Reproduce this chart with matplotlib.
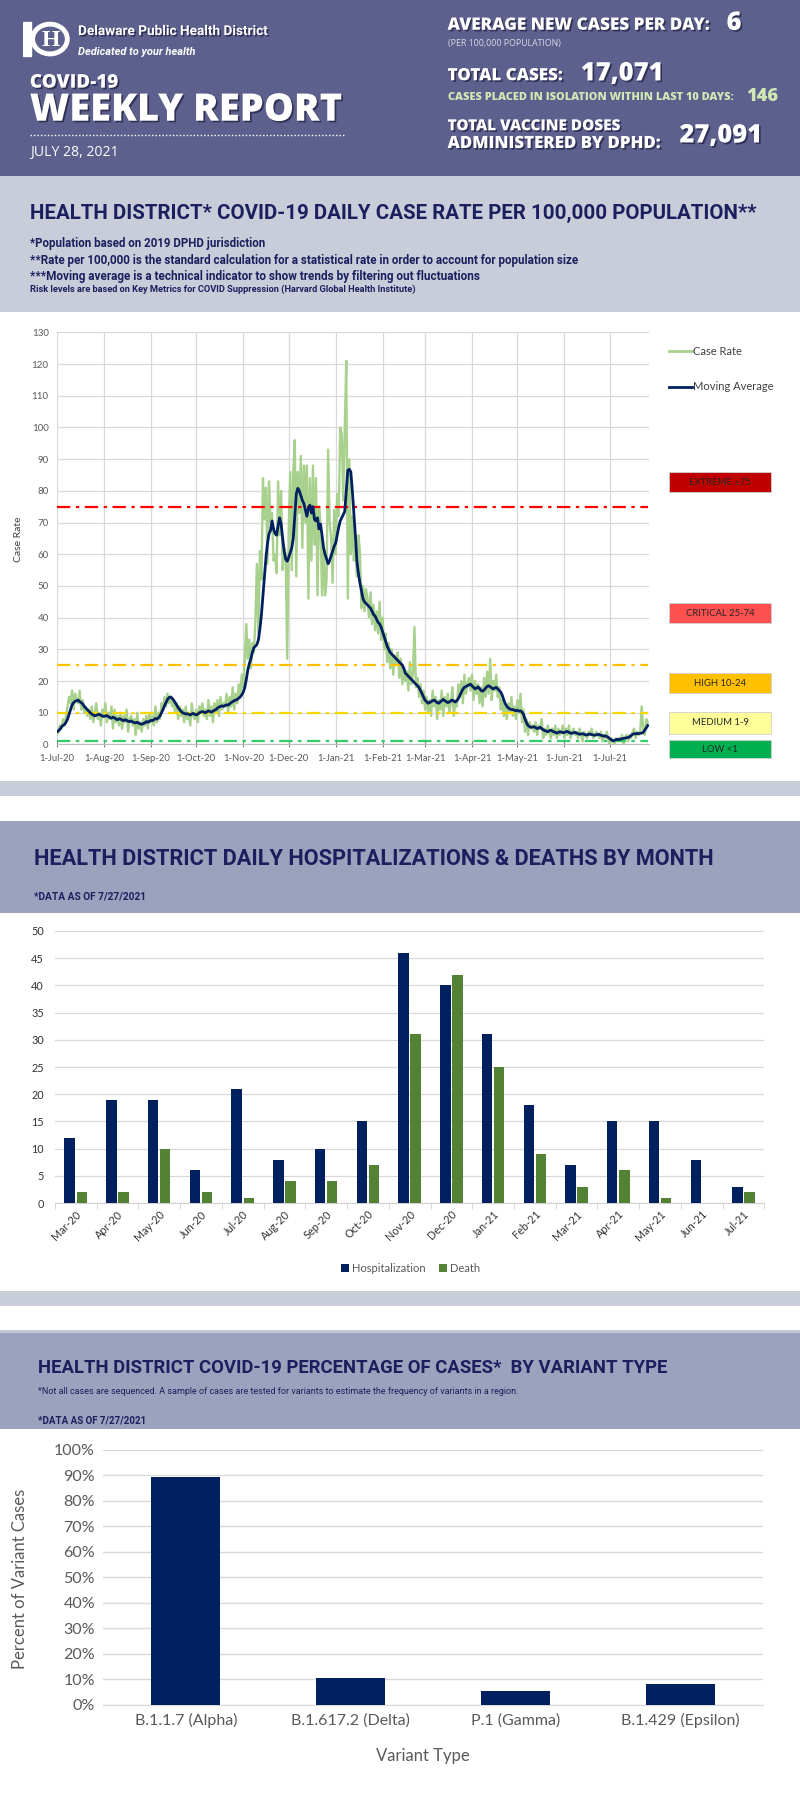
import numpy as np
import pandas as pd
import matplotlib
matplotlib.use('Agg')
import matplotlib.pyplot as plt
import matplotlib.patheffects as pe
from matplotlib.patches import Rectangle, Circle
from matplotlib.lines import Line2D

# header numbers
avg_new_cases = "6"
total_cases = "17,071"
isolation_10d = "146"
vaccine_doses = "27,091"
report_date = "JULY 28, 2021"

# daily case rate per 100,000 from 1-Jul-20 (one row per week)
case_rate = [
    3, 4, 6, 5, 8, 6, 9,
    12, 15, 13, 17, 11, 16, 14,
    13, 17, 11, 14, 10, 12, 9,
    11, 8, 12, 7, 10, 13, 8,
    10, 6, 11, 9, 13, 7, 10,
    8, 12, 5, 11, 7, 9, 6,
    10, 5, 9, 7, 11, 4, 8,
    9, 6, 8, 3, 10, 5, 7,
    4, 8, 6, 9, 5, 10, 7,
    9, 6, 12, 7, 10, 8, 13,
    11, 15, 12, 16, 13, 15, 12,
    14, 10, 13, 8, 12, 9, 11,
    7, 12, 8, 10, 6, 13, 9,
    8, 11, 7, 12, 10, 13, 9,
    11, 8, 14, 9, 12, 7, 13,
    10, 14, 9, 15, 11, 13, 12,
    16, 10, 15, 12, 18, 11, 16,
    13, 19, 15, 22, 18, 27, 38,
    27, 33, 24, 32, 29, 39, 57,
    35, 61, 52, 84, 71, 81, 57,
    83, 70, 73, 58, 60, 54, 83,
    66, 80, 55, 62, 60, 27, 68,
    86, 55, 86, 96, 53, 86, 73,
    91, 62, 88, 70, 88, 46, 84,
    58, 88, 63, 84, 47, 75, 70,
    47, 62, 47, 52, 93, 70, 65,
    51, 74, 60, 79, 72, 100, 98,
    77, 100, 121, 46, 90, 60, 72,
    58, 63, 53, 66, 61, 43, 50,
    42, 49, 46, 40, 48, 38, 44,
    36, 42, 35, 45, 33, 40, 30,
    35, 26, 32, 24, 30, 22, 28,
    25, 29, 21, 27, 19, 24, 20,
    23, 17, 26, 19, 22, 37, 18,
    21, 15, 19, 13, 17, 11, 15,
    10, 14, 9, 17, 12, 15, 8,
    14, 11, 17, 9, 15, 12, 16,
    10, 13, 18, 9, 14, 12, 19,
    15, 20, 13, 22, 16, 19, 21,
    17, 22, 14, 20, 16, 19, 13,
    18, 12, 21, 15, 23, 16, 27,
    14, 20, 17, 22, 15, 18, 11,
    14, 9, 12, 8, 13, 10, 15,
    9, 12, 8, 14, 10, 16, 7,
    11, 4, 8, 3, 7, 5, 6,
    4, 7, 3, 6, 5, 8, 2,
    5, 3, 6, 4, 2, 5, 3,
    6, 2, 5, 3, 4, 6, 2,
    5, 3, 6, 2, 4, 5, 3,
    4, 2, 5, 3, 1, 4, 3,
    2, 4, 3, 5, 2, 3, 4,
    3, 2, 4, 1, 3, 2, 4,
    1, 0, 2, 1, 0, 2, 1,
    2, 1, 3, 0, 2, 3, 1,
    3, 2, 4, 5, 2, 4, 3,
    4, 12, 5, 3, 8, 7,
]

moving_avg = [
    4.0, 4.3, 4.8, 5.5, 6.0, 6.3, 7.0,
    8.0, 9.5, 11.0, 12.5, 13.2, 13.6, 13.8,
    14.0, 13.5, 13.2, 12.8, 12.0, 11.5, 11.0,
    10.5, 10.0, 9.6, 9.3, 9.0, 9.2, 9.4,
    9.5, 9.2, 9.0, 8.8, 9.0, 9.1, 8.8,
    8.5, 8.3, 8.6, 8.4, 8.0, 7.8, 8.1,
    8.0, 7.7, 7.5, 7.8, 7.6, 7.3, 7.2,
    7.4, 7.1, 6.9, 6.8, 7.0, 6.7, 6.5,
    6.4, 6.6, 6.8, 7.2, 7.0, 7.3, 7.6,
    7.5, 7.8, 8.2, 8.0, 8.4, 9.0, 10.0,
    11.0, 12.2, 13.2, 14.2, 14.8, 15.0, 14.6,
    14.0, 13.2, 12.5, 11.6, 11.0, 10.4, 10.0,
    9.8, 9.6, 9.7, 9.5, 9.3, 9.6, 9.8,
    9.5, 9.3, 9.6, 10.0, 10.2, 10.4, 10.2,
    10.0, 10.3, 10.6, 10.4, 10.2, 10.5, 10.8,
    11.0, 11.5, 11.8, 12.0, 12.2, 12.0, 12.3,
    12.5, 12.4, 12.8, 13.2, 13.5, 13.8, 14.0,
    14.2, 14.6, 15.0, 15.6, 16.5, 18.0, 20.5,
    23.5, 25.5, 27.0, 29.0, 30.5, 31.0, 31.5,
    33.0, 36.5, 41.0, 47.0, 53.0, 59.0, 63.5,
    66.5, 67.5, 70.5, 68.0, 66.5, 66.0, 69.0,
    71.5, 69.5, 65.0, 61.0, 58.5, 57.8, 59.0,
    60.5, 62.0, 65.0, 72.0, 79.0, 80.8, 80.0,
    78.5, 77.0, 76.0, 74.0, 72.0, 74.5, 75.5,
    73.0, 75.0, 71.0, 70.5, 71.5, 68.0, 69.5,
    66.0, 62.0, 60.0, 58.5, 57.0, 58.0, 59.5,
    61.0, 62.5, 63.5, 66.0, 68.5, 70.5, 71.5,
    72.5, 73.5, 80.0, 86.5, 86.8, 86.0, 80.0,
    73.0, 66.0, 58.0, 54.0, 51.0, 48.5, 46.0,
    45.0, 44.5, 44.0, 43.5, 43.0, 42.0, 41.0,
    40.5, 39.5, 38.5, 38.0, 37.0, 35.5, 34.0,
    32.5, 31.0, 30.0, 29.0, 28.5, 28.0, 27.5,
    27.0, 26.5, 26.0, 25.5, 25.0, 24.0, 22.5,
    22.0, 21.5, 21.0, 20.5, 20.0, 19.5, 19.0,
    18.5, 18.0, 17.0, 16.0, 15.0, 14.0, 13.5,
    13.0, 13.2, 13.5, 13.8, 14.0, 13.6, 13.2,
    13.0, 13.4, 13.8, 14.2, 13.8, 13.5, 13.2,
    13.4, 13.8, 14.0, 13.6, 13.4, 13.8, 14.5,
    15.5, 16.5, 17.5, 18.0, 18.3, 18.5, 18.8,
    19.0, 18.5, 18.0, 17.5, 17.8, 18.2, 17.6,
    17.0, 16.8, 17.2, 17.8, 18.3, 18.5, 18.2,
    17.8, 17.5, 17.8, 18.0, 17.5, 17.0, 16.5,
    15.5, 14.0, 12.8, 12.0, 11.5, 11.2, 11.0,
    11.0, 10.8, 10.6, 10.8, 10.5, 10.6, 10.2,
    9.5, 8.0, 6.8, 6.0, 5.6, 5.4, 5.5,
    5.6, 5.3, 5.0, 5.2, 5.4, 5.0, 4.6,
    4.4, 4.2, 4.0, 4.3, 4.5, 4.2, 4.0,
    3.8, 3.6, 3.8, 4.0, 3.9, 3.7, 3.8,
    4.0, 4.1, 3.8, 3.6, 3.5, 3.7, 3.8,
    3.6, 3.4, 3.2, 3.3, 3.4, 3.2, 3.0,
    3.0, 3.2, 3.3, 3.1, 3.0, 2.9, 3.0,
    3.2, 3.1, 2.9, 2.8, 2.6, 2.7, 2.5,
    2.2, 1.8, 1.4, 1.2, 1.3, 1.5, 1.6,
    1.5, 1.7, 1.8, 1.9, 2.0, 2.1, 2.2,
    2.4, 2.8, 3.2, 3.4, 3.3, 3.5, 3.4,
    3.5, 3.6, 3.8, 4.5, 5.2, 6.0,
]

risk_levels = ["EXTREME \u226575", "CRITICAL 25-74", "HIGH 10-24", "MEDIUM 1-9", "LOW <1"]
risk_lines = [75, 25, 10, 1]

months = ["Mar-20", "Apr-20", "May-20", "Jun-20", "Jul-20", "Aug-20", "Sep-20", "Oct-20",
          "Nov-20", "Dec-20", "Jan-21", "Feb-21", "Mar-21", "Apr-21", "May-21", "Jun-21", "Jul-21"]
hospitalizations = [12, 19, 19, 6, 21, 8, 10, 15, 46, 40, 31, 18, 7, 15, 15, 8, 3]
deaths = [2, 2, 10, 2, 1, 4, 4, 7, 31, 42, 25, 9, 3, 6, 1, 0, 2]

variants = ["B.1.1.7 (Alpha)", "B.1.617.2 (Delta)", "P.1 (Gamma)", "B.1.429 (Epsilon)"]
variant_pct = [0.895, 0.105, 0.055, 0.08]

assert len(case_rate) == len(moving_avg)

# layout is measured on a 697x1568 copy of the page
W, H = 697.0, 1568.0
S = 800 / W
NAVY = '#1b1f5e'
HEAD = '#5d608c'
BAND_LIGHT = '#c9cdd9'
BAND_DARK = '#9ca1bd'
GRAY = '#595959'
NARROW = ['Liberation Sans Narrow', 'Roboto', 'DejaVu Sans']
BOLD = ['Open Sans', 'DejaVu Sans']
CHART = ['Lato', 'DejaVu Sans']

fig = plt.figure(figsize=(8, 18), dpi=100)
fig.patch.set_facecolor('white')
renderer = fig.canvas.get_renderer()


def rect(x0, y0, x1, y1):
    return [x0 / W, 1 - y1 / H, (x1 - x0) / W, (y1 - y0) / H]


def band(y0, y1, color, x0=0, x1=W):
    fig.patches.append(Rectangle((x0 / W, 1 - y1 / H), (x1 - x0) / W, (y1 - y0) / H,
                                 transform=fig.transFigure, facecolor=color,
                                 edgecolor='none', zorder=-2))


def txt(x, y, s, size, width=None, **kw):
    kw.setdefault('ha', 'left')
    kw.setdefault('va', 'center')
    t = fig.text(x / W, 1 - y / H, s, fontsize=size, **kw)
    if width:
        w = t.get_window_extent(renderer).width
        t.set_fontsize(size * width * S / w)
    return t


shadow = [pe.withSimplePatchShadow(offset=(1.2, -1.2), shadow_rgbFace='#25264a', alpha=0.8)]

# ---- header
band(0, 153, HEAD)
lax = fig.add_axes(rect(20, 16, 62, 52))
lax.set_xlim(0, 1)
lax.set_ylim(0, 1)
lax.axis('off')
lax.add_patch(Rectangle((0.0, 0.08), 0.16, 0.84, color='white'))
lax.add_patch(Circle((0.56, 0.5), 0.36, fill=False, ec='white', lw=3.5))
lax.text(0.57, 0.47, 'H', color='white', fontsize=17, ha='center', va='center',
         weight='bold', family=['Liberation Serif', 'DejaVu Serif'])

txt(68, 27, 'Delaware Public Health District', 12, width=165, color='white',
    weight='bold', family=NARROW, path_effects=shadow)
txt(68, 45, 'Dedicated to your health', 8, width=102, color='white',
    weight='bold', style='italic', family=NARROW)
txt(26, 72, 'COVID-19', 15, width=77, color='white', weight='heavy', family=BOLD,
    path_effects=shadow)
txt(26, 96, 'WEEKLY REPORT', 28, width=272, color='white', weight='heavy', family=BOLD,
    path_effects=shadow)
fig.add_artist(Line2D([26 / W, 300 / W], [1 - 118 / H] * 2, transform=fig.transFigure,
                      color='white', lw=1, ls=(0, (1, 1.5))))
txt(26, 133, report_date, 10, width=77, color='white', family=BOLD)

txt(390, 22, 'AVERAGE NEW CASES PER DAY:', 12, width=228, color='white', weight='heavy',
    family=BOLD, path_effects=shadow)
txt(633, 20, avg_new_cases, 17, width=13, color='white', weight='heavy', family=BOLD,
    path_effects=shadow)
txt(390, 38, '(PER 100,000 POPULATION)', 4.5, width=98, color='#d8d9e6', family=BOLD)
txt(390, 66, 'TOTAL CASES:', 12, width=100, color='white', weight='heavy', family=BOLD,
    path_effects=shadow)
txt(506, 64, total_cases, 20, width=72, color='white', weight='heavy', family=BOLD,
    path_effects=shadow)
txt(390, 85, 'CASES PLACED IN ISOLATION WITHIN LAST 10 DAYS:', 7, width=250,
    color='#cfe8b5', weight='heavy', family=BOLD)
txt(650, 84, isolation_10d, 11, width=28, color='#cfe8b5', weight='heavy', family=BOLD)
txt(390, 110, 'TOTAL VACCINE DOSES', 12, width=150, color='white', weight='heavy',
    family=BOLD, path_effects=shadow)
txt(390, 125, 'ADMINISTERED BY DPHD:', 12, width=185, color='white', weight='heavy',
    family=BOLD, path_effects=shadow)
txt(592, 118, vaccine_doses, 20, width=72, color='white', weight='heavy', family=BOLD,
    path_effects=shadow)

# ---- section 1: daily case rate
band(153, 272, BAND_LIGHT)
band(680, 693, BAND_LIGHT)
txt(26, 186, 'HEALTH DISTRICT* COVID-19 DAILY CASE RATE PER 100,000 POPULATION**', 13,
    width=630, color=NAVY, weight='bold', family=NARROW)
txt(26, 212, '*Population based on 2019 DPHD jurisdiction', 7, width=206, color=NAVY,
    weight='bold', family=NARROW)
txt(26, 227, '**Rate per 100,000 is the standard calculation for a statistical rate in order '
    'to account for population size', 7, width=482, color=NAVY, weight='bold', family=NARROW)
txt(26, 241, '***Moving average is a technical indicator to show trends by filtering out '
    'fluctuations', 7, width=394, color=NAVY, weight='bold', family=NARROW)
txt(26, 252, 'Risk levels are based on Key Metrics for COVID Suppression (Harvard Global '
    'Health Institute)', 6, width=340, color=NAVY, weight='bold', family=NARROW)

dates = pd.date_range('2020-07-01', periods=len(case_rate), freq='D')
ax1 = fig.add_axes(rect(49.6, 289.5, 565.4, 648.5))
ax1.plot(dates, case_rate, color='#a9d18e', lw=1.7, zorder=2)
for level, col in zip(risk_lines, ['#ff0000', '#ffc000', '#f5d800', '#33cc66']):
    ax1.plot([dates[0], dates[-1]], [level, level], color=col, lw=1.6,
             ls=(0, (6, 2.5, 1.5, 2.5)), zorder=3)
ax1.plot(dates, moving_avg, color='#002060', lw=2, zorder=4)
ax1.set_ylim(0, 130)
ax1.set_yticks(range(0, 131, 10))
ax1.set_xlim(dates[0], dates[0] + pd.Timedelta(days=390.8))
month_starts = pd.date_range('2020-07-01', '2021-07-01', freq='MS')
ax1.set_xticks(month_starts)
ax1.set_xticklabels([f"{d.day}-{d.strftime('%b-%y')}" for d in month_starts])
ax1.grid(color='#d9d9d9', lw=0.9)
ax1.set_axisbelow(True)
for s in ['top', 'right', 'left']:
    ax1.spines[s].set_visible(False)
ax1.spines['bottom'].set_color('#bfbfbf')
ax1.tick_params(axis='y', length=0, labelsize=7, colors=GRAY, pad=6)
ax1.tick_params(axis='x', length=4, direction='inout', color='#7f7f7f', labelsize=6.8,
                labelcolor=GRAY, pad=5)
for lab in ax1.get_xticklabels() + ax1.get_yticklabels():
    lab.set_family(CHART)
txt(16, 470, 'Case Rate', 7.5, color='#404040', rotation=90, ha='center', family=CHART)

# legend and risk boxes on the right
for yy, col, name in [(306, '#a9d18e', 'Case Rate'), (337, '#002060', 'Moving Average')]:
    fig.add_artist(Line2D([583 / W, 603 / W], [1 - yy / H] * 2, transform=fig.transFigure,
                          color=col, lw=2))
    txt(604, yy, name, 8, color='#404040', family=CHART)

boxes = [(411, 429, '#c00000'), (525, 543, '#ff5050'), (586, 604, '#ffc000'),
         (620, 639, '#ffff99'), (645, 660, '#00b050')]
for (y0, y1, col), name in zip(boxes, risk_levels):
    fig.patches.append(Rectangle((583 / W, 1 - y1 / H), 89 / W, (y1 - y0) / H,
                                 transform=fig.transFigure, facecolor=col,
                                 edgecolor='#d0d0d0', lw=0.6, zorder=1))
    txt(627.5, (y0 + y1) / 2, name, 6.8, color='#262626', ha='center', family=CHART)

# ---- section 2: hospitalizations & deaths
band(715, 795, BAND_DARK)
txt(30, 748, 'HEALTH DISTRICT DAILY HOSPITALIZATIONS & DEATHS BY MONTH', 13, width=590,
    color=NAVY, weight='bold', family=NARROW)
txt(30, 781, '*DATA AS OF 7/27/2021', 6, width=99, color=NAVY, weight='bold', family=NARROW)

ax2 = fig.add_axes(rect(47.8, 811, 666, 1048))
x = np.arange(len(months))
ax2.bar(x - 0.145, hospitalizations, 0.25, color='#002060', label='Hospitalization',
        zorder=3)
ax2.bar(x + 0.145, deaths, 0.25, color='#548235', label='Death', zorder=3)
ax2.set_ylim(0, 50)
ax2.set_yticks(range(0, 51, 5))
ax2.set_xlim(-0.5, len(months) - 0.5)
ax2.set_xticks(x)
ax2.set_xticklabels(months, rotation=45, ha='right', rotation_mode='anchor')
ax2.set_xticks(np.arange(-0.5, len(months), 1), minor=True)
ax2.grid(axis='y', color='#d9d9d9', lw=0.9)
ax2.set_axisbelow(True)
for s in ['top', 'right', 'left']:
    ax2.spines[s].set_visible(False)
ax2.spines['bottom'].set_color('#d0d0d0')
ax2.tick_params(axis='x', which='major', length=0, labelsize=7.8, labelcolor='#333333', pad=4)
ax2.tick_params(axis='x', which='minor', length=4, color='#d0d0d0')
ax2.tick_params(axis='y', length=0, labelsize=7.8, labelcolor='#333333', pad=8)
for lab in ax2.get_xticklabels() + ax2.get_yticklabels():
    lab.set_family(CHART)
ax2.legend(loc='center', bbox_to_anchor=(358 / W, 1 - 1105 / H),
           bbox_transform=fig.transFigure, ncol=2, frameon=False,
           prop={'family': CHART, 'size': 8}, labelcolor='#595959', handlelength=0.7,
           handleheight=0.7, handletextpad=0.3, columnspacing=1.2)
band(1125, 1138, BAND_LIGHT)

# ---- section 3: variants
band(1160, 1245, BAND_DARK)
band(1159, 1161, '#c3c6d6')
txt(33, 1192, 'HEALTH DISTRICT COVID-19 PERCENTAGE OF CASES*  BY VARIANT TYPE', 13,
    width=544, color=NAVY, weight='bold', family=NARROW)
txt(33, 1212, '*Not all cases are sequenced. A sample of cases are tested for variants to '
    'estimate the frequency of variants in a region.', 5.5, width=419, color=NAVY,
    family=NARROW)
txt(33, 1237, '*DATA AS OF 7/27/2021', 6, width=95, color=NAVY, weight='bold', family=NARROW)

ax3 = fig.add_axes(rect(90, 1263, 665, 1485))
ax3.bar(np.arange(len(variants)), variant_pct, width=0.42, color='#002060', zorder=3)
ax3.set_ylim(0, 1)
ax3.set_xlim(-0.5, len(variants) - 0.5)
ticks = np.arange(0, 1.01, 0.1)
ax3.set_yticks(ticks)
ax3.set_yticklabels([f"{int(round(v * 100))}%" for v in ticks])
ax3.set_xticks(np.arange(len(variants)))
ax3.set_xticklabels(variants)
ax3.grid(axis='y', color='#d9d9d9', lw=1)
ax3.set_axisbelow(True)
for s in ['top', 'right', 'left']:
    ax3.spines[s].set_visible(False)
ax3.spines['bottom'].set_color('#d9d9d9')
ax3.tick_params(axis='both', length=0, labelsize=11.5, labelcolor=GRAY, pad=6)
for lab in ax3.get_xticklabels() + ax3.get_yticklabels():
    lab.set_family(CHART)
txt(17, 1375, 'Percent of Variant Cases', 12, color=GRAY, rotation=90, ha='center',
    family=CHART)
txt(368, 1530, 'Variant Type', 12, color=GRAY, ha='center', family=CHART)

fig.savefig('out.png', dpi=100)
